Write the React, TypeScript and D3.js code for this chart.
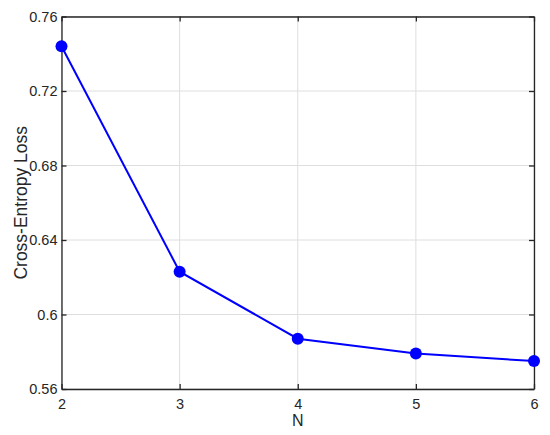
import React, { useRef, useEffect } from "react";
import * as d3 from "d3";

// chart data
const nValues = [2, 3, 4, 5, 6];
const lossValues = [0.744, 0.623, 0.587, 0.579, 0.575];
const yTicks = [0.56, 0.6, 0.64, 0.68, 0.72, 0.76];
const yTickLabels = ["0.56", "0.6", "0.64", "0.68", "0.72", "0.76"];
const xLabel = "N";
const yLabel = "Cross-Entropy Loss";

const W = 550;
const H = 435;
const margin = { top: 16.5, right: 16, bottom: 46, left: 61.5 };

export default function App() {
  const svgRef = useRef<SVGSVGElement>(null);

  useEffect(() => {
    const svg = d3.select(svgRef.current);
    svg.selectAll("*").remove();

    const x = d3.scaleLinear().domain([2, 6]).range([margin.left, W - margin.right]);
    const y = d3.scaleLinear().domain([0.56, 0.76]).range([H - margin.bottom, margin.top]);
    const font = "Liberation Sans, Arial, sans-serif";
    const axisColor = "#262626";

    // grid
    const grid = svg.append("g");
    grid
      .selectAll(".gx")
      .data(nValues)
      .join("line")
      .attr("x1", (d) => x(d))
      .attr("x2", (d) => x(d))
      .attr("y1", y(0.56))
      .attr("y2", y(0.76))
      .attr("stroke", "#dedede")
      .attr("stroke-width", 1);
    grid
      .selectAll(".gy")
      .data(yTicks)
      .join("line")
      .attr("x1", x(2))
      .attr("x2", x(6))
      .attr("y1", (d) => y(d))
      .attr("y2", (d) => y(d))
      .attr("stroke", "#dedede")
      .attr("stroke-width", 1);

    // axes with inward ticks
    const bottom = d3.axisBottom(x).tickValues(nValues).tickSizeInner(-5).tickSizeOuter(0).tickPadding(10).tickFormat(d3.format("d"));
    const top = d3.axisTop(x).tickValues(nValues).tickSizeInner(-5).tickSizeOuter(0).tickFormat(() => "");
    const left = d3
      .axisLeft(y)
      .tickValues(yTicks)
      .tickSizeInner(-5)
      .tickSizeOuter(0)
      .tickPadding(4)
      .tickFormat((d, i) => yTickLabels[i]);
    const right = d3.axisRight(y).tickValues(yTicks).tickSizeInner(-5).tickSizeOuter(0).tickFormat(() => "");

    const axes = [
      svg.append("g").attr("transform", `translate(0,${y(0.56)})`).call(bottom),
      svg.append("g").attr("transform", `translate(0,${y(0.76)})`).call(top),
      svg.append("g").attr("transform", `translate(${x(2)},0)`).call(left),
      svg.append("g").attr("transform", `translate(${x(6)},0)`).call(right),
    ];
    axes.forEach((g) => {
      g.selectAll("path").attr("stroke", axisColor).attr("stroke-width", 1.3);
      g.selectAll("line").attr("stroke", axisColor).attr("stroke-width", 1.3);
      g.selectAll("text").attr("fill", axisColor).style("font-family", font).style("font-size", "14.5px");
    });

    // line + markers
    const pts = nValues.map((n, i) => [n, lossValues[i]] as [number, number]);
    const line = d3
      .line<[number, number]>()
      .x((d) => x(d[0]))
      .y((d) => y(d[1]));
    svg
      .append("path")
      .datum(pts)
      .attr("d", line)
      .attr("fill", "none")
      .attr("stroke", "#0000ff")
      .attr("stroke-width", 2);
    svg
      .selectAll(".dot")
      .data(pts)
      .join("circle")
      .attr("cx", (d) => x(d[0]))
      .attr("cy", (d) => y(d[1]))
      .attr("r", 6)
      .attr("fill", "#0000ff");

    // labels
    svg
      .append("text")
      .attr("x", (x(2) + x(6)) / 2)
      .attr("y", 426)
      .attr("text-anchor", "middle")
      .attr("fill", axisColor)
      .style("font-family", font)
      .style("font-size", "16px")
      .text(xLabel);
    svg
      .append("text")
      .attr("transform", `translate(27,${(y(0.56) + y(0.76)) / 2}) rotate(-90)`)
      .attr("text-anchor", "middle")
      .attr("fill", axisColor)
      .style("font-family", font)
      .style("font-size", "17.5px")
      .text(yLabel);
  }, []);

  return (
    <svg
      ref={svgRef}
      width={W}
      height={H}
      style={{ position: "absolute", left: 0, top: 0, background: "#fff" }}
    />
  );
}
